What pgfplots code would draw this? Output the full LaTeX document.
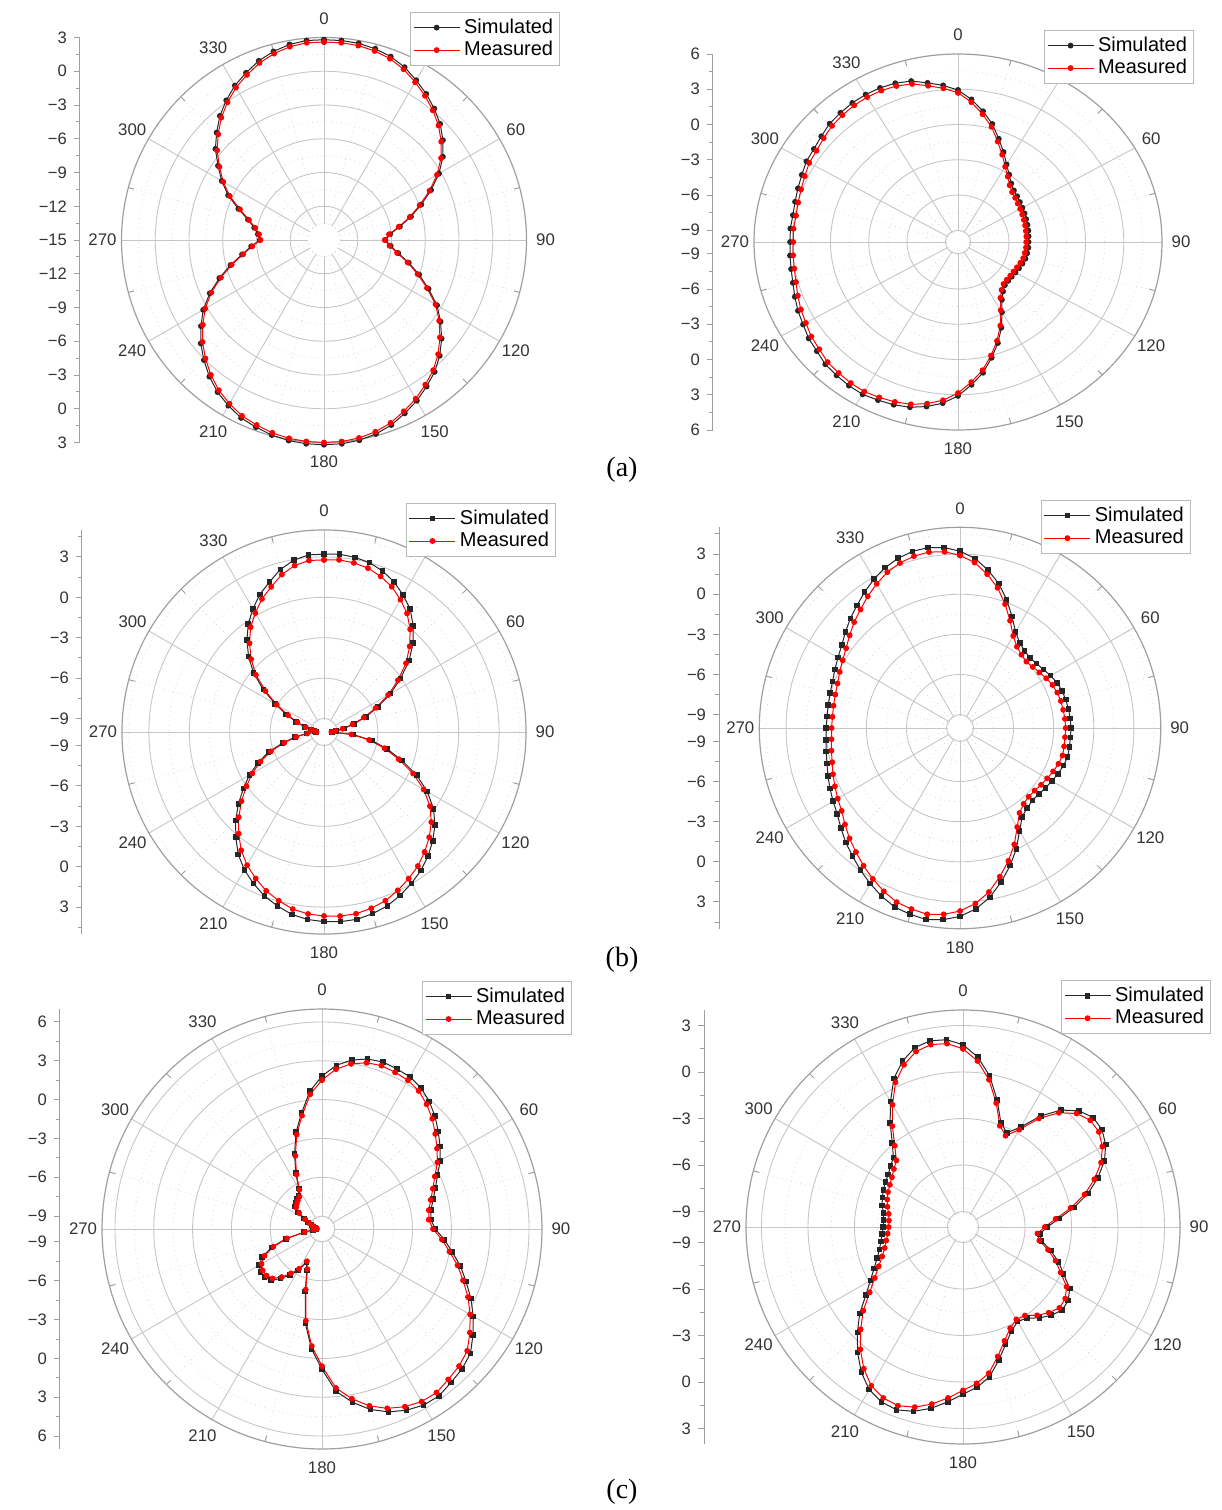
\documentclass[border=0pt]{standalone}
\usepackage{pgfplots}
\pgfplotsset{compat=1.18}
\usepackage{pgfplotstable}
\usepackage{fontspec}
\setmainfont{Liberation Sans}
\newfontfamily\seriffont{Liberation Serif}

\pgfplotstableread{
a s m
0 2.8 2.6
5 2.8 2.6
10 2.75 2.55
15 2.6 2.4
20 2.35 2.15
25 1.95 1.75
30 1.4 1.2
35 0.85 0.65
40 0.25 0.05
45 -0.4 -0.6
50 -1.2 -1.4
55 -2.1 -2.3
60 -3.2 -3.4
65 -4.5 -4.65
70 -5.8 -5.95
75 -7.0 -7.1
80 -8.15 -8.25
85 -9.1 -9.2
90 -9.55 -9.6
95 -9.05 -9.15
100 -8.3 -8.4
105 -7.2 -7.3
110 -6.0 -6.15
115 -4.75 -4.9
120 -3.4 -3.55
125 -2.35 -2.5
130 -1.35 -1.55
135 -0.45 -0.65
140 0.3 0.1
145 0.9 0.7
150 1.5 1.3
155 2.0 1.8
160 2.5 2.3
165 2.85 2.65
170 3.07 2.87
175 3.18 2.98
180 3.2 3.0
185 3.18 2.98
190 3.1 2.9
195 2.95 2.75
200 2.7 2.5
205 2.45 2.25
210 2.0 1.8
215 1.5 1.3
220 0.85 0.65
225 0.1 -0.1
230 -0.7 -0.9
235 -1.65 -1.85
240 -2.6 -2.8
245 -3.8 -3.95
250 -5.1 -5.25
255 -6.4 -6.5
260 -7.6 -7.7
265 -8.5 -8.6
270 -9.3 -9.35
275 -9.1 -9.2
280 -8.7 -8.8
285 -8.0 -8.1
290 -6.9 -7.05
295 -5.6 -5.75
300 -4.5 -4.65
305 -3.5 -3.65
310 -2.4 -2.6
315 -1.5 -1.7
320 -0.6 -0.8
325 0.15 -0.05
330 0.85 0.65
335 1.4 1.2
340 1.95 1.75
345 2.35 2.15
350 2.65 2.45
355 2.8 2.6
360 2.8 2.6
}\tAL

\pgfplotstableread{
a s m
0 2.93 2.7
5 2.18 1.95
10 1.3 1.05
15 0.4 0.15
20 -0.65 -0.9
25 -1.55 -1.8
30 -2.38 -2.6
35 -3.0 -3.2
40 -3.5 -3.7
45 -3.8 -4.0
50 -3.95 -4.15
55 -4.08 -4.28
60 -4.17 -4.37
65 -4.24 -4.44
70 -4.31 -4.5
75 -4.36 -4.55
80 -4.4 -4.6
85 -4.44 -4.62
90 -4.47 -4.65
95 -4.46 -4.65
100 -4.49 -4.68
105 -4.52 -4.7
110 -4.62 -4.8
115 -4.72 -4.9
120 -4.8 -4.97
125 -4.85 -5.0
130 -4.86 -5.0
135 -4.8 -4.95
140 -4.5 -4.68
145 -4.0 -4.2
150 -3.1 -3.3
155 -1.95 -2.15
160 -0.85 -1.05
165 0.2 0.0
170 1.3 1.08
175 2.2 1.97
180 3.1 2.85
185 3.77 3.52
190 4.22 3.97
195 4.56 4.3
200 4.74 4.48
205 4.85 4.6
210 4.97 4.7
215 4.92 4.66
220 4.82 4.56
225 4.72 4.46
230 4.45 4.2
235 4.3 4.04
240 4.03 3.78
245 3.85 3.6
250 3.62 3.37
255 3.41 3.16
260 3.29 3.04
265 3.23 2.98
270 3.17 2.92
275 3.2 2.95
280 3.15 2.9
285 3.23 2.98
290 3.36 3.1
295 3.52 3.26
300 3.73 3.47
305 3.8 3.55
310 4.0 3.75
315 4.24 3.98
320 4.35 4.1
325 4.45 4.2
330 4.49 4.24
335 4.47 4.22
340 4.38 4.13
345 4.18 3.93
350 3.75 3.5
355 3.38 3.13
360 2.93 2.7
}\tAR

\pgfplotstableread{
a s m
0 3.2 2.78
5 3.25 2.83
10 3.17 2.75
15 3.02 2.6
20 2.72 2.3
25 2.3 1.9
30 1.75 1.35
35 1.15 0.75
40 0.3 -0.05
45 -0.65 -1.0
50 -1.75 -2.05
55 -3.05 -3.3
60 -4.3 -4.5
65 -5.6 -5.75
70 -6.7 -6.85
75 -7.7 -7.8
80 -8.5 -8.6
85 -9.1 -9.15
90 -9.4 -9.45
95 -7.8 -7.95
100 -6.4 -6.6
105 -5.15 -5.35
110 -3.85 -4.1
115 -2.4 -2.7
120 -1.15 -1.45
125 -0.07 -0.4
130 0.75 0.4
135 1.42 1.05
140 2.02 1.62
145 2.55 2.15
150 2.98 2.57
155 3.38 2.97
160 3.74 3.33
165 3.96 3.55
170 4.12 3.7
175 4.13 3.72
180 4.08 3.66
185 3.97 3.56
190 3.75 3.35
195 3.37 2.97
200 2.95 2.55
205 2.4 2.0
210 1.82 1.42
215 1.1 0.72
220 0.19 -0.15
225 -0.73 -1.05
230 -1.7 -2.0
235 -2.7 -2.97
240 -3.6 -3.85
245 -4.6 -4.8
250 -5.6 -5.8
255 -6.8 -6.95
260 -7.8 -7.9
265 -8.7 -8.75
270 -9.4 -9.45
275 -9.3 -9.35
280 -9.0 -9.05
285 -8.5 -8.6
290 -7.8 -7.9
295 -6.9 -7.05
300 -5.8 -5.95
305 -4.5 -4.7
310 -3.18 -3.4
315 -2.08 -2.35
320 -1.1 -1.4
325 -0.2 -0.5
330 0.56 0.2
335 1.27 0.9
340 1.85 1.47
345 2.5 2.1
350 2.95 2.55
355 3.2 2.78
360 3.2 2.78
}\tBL

\pgfplotstableread{
a s m
0 3.21 2.9
5 2.73 2.42
10 2.0 1.68
15 1.18 0.85
20 0.2 -0.15
25 -0.8 -1.15
30 -1.7 -2.05
35 -2.22 -2.58
40 -2.48 -2.85
45 -2.6 -2.98
50 -2.52 -2.9
55 -2.38 -2.76
60 -2.18 -2.56
65 -2.0 -2.38
70 -1.88 -2.26
75 -1.82 -2.2
80 -1.77 -2.17
85 -1.73 -2.13
90 -1.7 -2.1
95 -1.72 -2.12
100 -1.7 -2.1
105 -1.67 -2.07
110 -1.77 -2.17
115 -1.92 -2.32
120 -2.08 -2.48
125 -2.2 -2.6
130 -2.32 -2.72
135 -2.34 -2.74
140 -2.2 -2.6
145 -1.9 -2.25
150 -1.1 -1.45
155 -0.04 -0.4
160 0.95 0.57
165 1.9 1.5
170 2.85 2.45
175 3.57 3.17
180 4.08 3.68
185 4.38 3.98
190 4.54 4.14
195 4.41 4.01
200 4.25 3.85
205 3.87 3.47
210 3.43 3.03
215 2.97 2.57
220 2.5 2.1
225 2.08 1.68
230 1.62 1.22
235 1.2 0.8
240 0.95 0.55
245 0.72 0.32
250 0.5 0.1
255 0.29 -0.11
260 0.16 -0.24
265 0.04 -0.36
270 0.0 -0.4
275 -0.03 -0.43
280 0.0 -0.4
285 0.05 -0.35
290 0.14 -0.26
295 0.32 -0.08
300 0.53 0.13
305 0.79 0.39
310 1.17 0.77
315 1.59 1.19
320 1.97 1.57
325 2.42 2.02
330 2.85 2.45
335 3.23 2.85
340 3.5 3.12
345 3.67 3.3
350 3.69 3.35
355 3.54 3.22
360 3.21 2.9
}\tBR

\pgfplotstableread{
a s m
0 1.82 1.52
5 2.7 2.4
10 3.26 2.96
15 3.6 3.3
20 3.74 3.44
25 3.66 3.36
30 3.58 3.28
35 3.33 3.03
40 2.88 2.58
45 2.35 2.05
50 1.73 1.43
55 1.14 0.85
60 0.55 0.3
65 -0.15 -0.38
70 -0.67 -0.88
75 -1.1 -1.3
80 -1.45 -1.62
85 -1.56 -1.72
90 -1.25 -1.42
95 -0.5 -0.7
100 0.22 0.0
105 1.08 0.85
110 1.84 1.6
115 2.7 2.45
120 3.5 3.22
125 4.25 3.95
130 4.97 4.65
135 5.3 4.98
140 5.5 5.18
145 5.75 5.43
150 5.71 5.4
155 5.45 5.15
160 5.04 4.75
165 4.44 4.15
170 3.6 3.32
175 2.6 2.33
180 0.85 0.6
185 -0.7 -0.92
190 -2.6 -2.8
195 -5.0 -5.15
200 -6.6 -6.7
205 -7.15 -7.25
210 -6.3 -6.45
215 -5.65 -5.8
220 -5.0 -5.15
225 -4.4 -4.6
230 -4.2 -4.4
235 -4.2 -4.4
240 -4.4 -4.6
245 -4.9 -5.1
250 -5.85 -6.0
255 -7.1 -7.2
260 -8.6 -8.65
265 -9.3 -9.35
270 -9.55 -9.6
275 -9.55 -9.6
280 -9.45 -9.5
285 -9.3 -9.35
290 -9.15 -9.2
295 -8.8 -8.9
300 -8.4 -8.5
305 -7.75 -7.85
310 -7.3 -7.4
315 -7.15 -7.25
320 -7.0 -7.1
325 -6.85 -6.95
330 -6.4 -6.5
335 -5.2 -5.35
340 -3.8 -3.98
345 -2.25 -2.45
350 -0.9 -1.1
355 0.7 0.45
360 1.82 1.52
}\tCL

\pgfplotstableread{
a s m
0 1.76 1.5
5 1.0 0.75
10 -0.1 -0.35
15 -1.5 -1.72
20 -2.85 -3.05
25 -3.3 -3.5
30 -2.55 -2.75
35 -1.25 -1.45
40 -0.15 -0.38
45 0.6 0.36
50 0.97 0.72
55 0.95 0.7
60 0.63 0.38
65 0.07 -0.17
70 -0.75 -0.98
75 -1.65 -1.88
80 -2.73 -2.95
85 -3.8 -4.0
90 -4.55 -4.72
95 -5.03 -5.18
100 -4.85 -5.0
105 -4.14 -4.32
110 -3.45 -3.65
115 -2.84 -3.05
120 -2.05 -2.28
125 -1.72 -1.95
130 -1.65 -1.88
135 -1.95 -2.18
140 -2.34 -2.56
145 -2.83 -3.03
150 -2.95 -3.12
155 -2.6 -2.8
160 -1.95 -2.18
165 -1.1 -1.35
170 -0.18 -0.42
175 0.38 0.13
180 0.79 0.54
185 1.32 1.07
190 1.88 1.6
195 2.31 2.03
200 2.55 2.27
205 2.45 2.17
210 2.11 1.83
215 1.44 1.16
220 0.58 0.3
225 -0.36 -0.66
230 -1.3 -1.6
235 -2.35 -2.65
240 -3.1 -3.42
245 -3.67 -4.0
250 -4.1 -4.45
255 -4.42 -4.77
260 -4.62 -4.97
265 -4.77 -5.12
270 -4.85 -5.2
275 -4.85 -5.2
280 -4.78 -5.13
285 -4.6 -4.95
290 -4.46 -4.8
295 -4.33 -4.66
300 -4.22 -4.55
305 -4.1 -4.4
310 -3.9 -4.18
315 -3.65 -3.92
320 -2.9 -3.15
325 -1.8 -2.05
330 -0.65 -0.9
335 0.56 0.3
340 1.4 1.14
345 1.98 1.72
350 2.2 1.95
355 2.13 1.88
360 1.76 1.5
}\tCR

% grid: #1 shift x, #2 shift y, #3 ux(px/dB), #4 uy, #5 Rdb, #6 hole, #7 major radii, #8 minor radii
\newcommand\polargrid[8]{%
\begin{scope}[shift={(#1,#2)}]
\foreach \rad in {#8}{\draw[gray!30, dotted, line width=0.4pt] (0,0) ellipse [x radius={\rad*#3*0.5pt}, y radius={\rad*#4*0.5pt}];}
\foreach \rad in {#7}{\draw[gray!45, line width=0.45pt] (0,0) ellipse [x radius={\rad*#3*0.5pt}, y radius={\rad*#4*0.5pt}];}
\foreach \ang in {15,45,...,345}{\draw[gray!30, dotted, line width=0.4pt] ({#6*#3*sin(\ang)},{#6*#4*cos(\ang)}) -- ({#5*#3*sin(\ang)},{#5*#4*cos(\ang)});}
\foreach \ang in {0,30,...,330}{\draw[gray!45, line width=0.45pt] ({#6*#3*sin(\ang)},{#6*#4*cos(\ang)}) -- ({#5*#3*sin(\ang)},{#5*#4*cos(\ang)});}
\draw[gray!75, line width=0.6pt] (0,0) ellipse [x radius={#5*#3*0.5pt}, y radius={#5*#4*0.5pt}];
\foreach \ang in {15,45,...,345}{\draw[gray!75, line width=0.5pt] ({#5*#3*sin(\ang)},{#5*#4*cos(\ang)}) -- ({(#5*#3-6)*sin(\ang)},{(#5*#4-6)*cos(\ang)});}
\foreach \ang in {0,60,90,...,330}{\node[font=\fontsize{8.4}{10}\selectfont, text=black!80, inner sep=0pt] at ({(#5*#3+19)*sin(\ang)},{(#5*#4+19)*cos(\ang)}) {\ang};}
\end{scope}}

\pgfplotsset{
 rad/.style={
  anchor=origin, clip=false,
  axis y line*=left, axis x line=none,
  tick align=outside,
  major tick length=3pt, minor tick length=1.8pt,
  y axis line style={gray!75, line width=0.5pt},
  every tick/.style={gray!75, line width=0.5pt},
  yticklabel style={font=\fontsize{8.3}{10}\selectfont, text=black!80},
  legend style={draw=gray!55, fill=white, font=\fontsize{10}{12}\selectfont, anchor=north east, inner sep=1.2pt, row sep=-1.5pt, cells={anchor=west}, line width=0.5pt},
  legend image code/.code={\draw[mark repeat=2,mark phase=2] plot coordinates {(0pt,0pt)(11.5pt,0pt)(23pt,0pt)};},
 },
 simA/.style={black!85, line width=0.5pt, mark=*, mark size=1.2pt},
 simB/.style={black!85, line width=0.5pt, mark=square*, mark size=1.15pt},
 mea/.style={red, line width=0.5pt, mark=*, mark size=1.2pt},
}

\begin{document}
\begin{tikzpicture}[x=0.5pt,y=0.5pt]
\useasboundingbox (0,0) rectangle (1221,-1510);

\polargrid{162pt}{-120pt}{11.25}{11.25}{18}{1.4}{3,6,9,12,15}{1.5,4.5,7.5,10.5,13.5,16.5}
\polargrid{479pt}{-121pt}{12.75}{11.75}{16}{0.9}{1,4,7,10,13}{2.5,5.5,8.5,11.5,14.5}
\polargrid{162pt}{-366pt}{13.47}{13.47}{15}{0.9}{1,4,7,10,13}{2.5,5.5,8.5,11.5,14.5}
\polargrid{480pt}{-364pt}{13.38}{13.38}{15}{0.9}{1,4,7,10,13}{2.5,5.5,8.5,11.5,14.5}
\polargrid{161pt}{-614.5pt}{12.94}{12.94}{17}{0.9}{1,4,7,10,13,16}{2.5,5.5,8.5,11.5,14.5}
\polargrid{481.5pt}{-613.5pt}{15.5}{15.5}{14}{0.9}{1,4,7,10,13}{2.5,5.5,8.5,11.5}

% (a) left
\begin{axis}[rad, at={(162pt,-120pt)}, x=5.625pt, y=5.625pt,
 xmin=-21.69, xmax=18, ymin=-18, ymax=18,
 ytick={-18,-15,...,18}, yticklabels={3,0,−3,−6,−9,−12,−15,−12,−9,−6,−3,0,3},
 minor ytick={-16.5,-13.5,...,16.5},
 legend style={at={(1.075,1.063)}}]
\addplot[simA] table[x expr={(\thisrow{s}+15)*sin(\thisrow{a})}, y expr={(\thisrow{s}+15)*cos(\thisrow{a})}]{\tAL};
\addplot[mea] table[x expr={(\thisrow{m}+15)*sin(\thisrow{a})}, y expr={(\thisrow{m}+15)*cos(\thisrow{a})}]{\tAL};
\legend{Simulated,Measured}
\end{axis}

% (a) right
\begin{axis}[rad, at={(479pt,-121pt)}, x=6.375pt, y=5.875pt,
 xmin=-19.22, xmax=16, ymin=-16, ymax=16,
 ytick={-16,-13,-10,-7,-4,-1,1,4,7,10,13,16}, yticklabels={6,3,0,−3,−6,−9,−9,−6,−3,0,3,6},
 minor ytick={-14.5,-11.5,-8.5,-5.5,-2.5,2.5,5.5,8.5,11.5,14.5},
 legend style={at={(1.071,1.064)}}]
\addplot[simA] table[x expr={(\thisrow{s}+10)*sin(\thisrow{a})}, y expr={(\thisrow{s}+10)*cos(\thisrow{a})}]{\tAR};
\addplot[mea] table[x expr={(\thisrow{m}+10)*sin(\thisrow{a})}, y expr={(\thisrow{m}+10)*cos(\thisrow{a})}]{\tAR};
\legend{Simulated,Measured}
\end{axis}

% (b) left
\begin{axis}[rad, at={(162pt,-366pt)}, x=6.735pt, y=6.735pt,
 xmin=-17.97, xmax=15, ymin=-15, ymax=15,
 ytick={-13,-10,-7,-4,-1,1,4,7,10,13}, yticklabels={3,0,−3,−6,−9,−9,−6,−3,0,3},
 minor ytick={-14.5,-11.5,-8.5,-5.5,-2.5,2.5,5.5,8.5,11.5,14.5},
 legend style={at={(1.067,1.067)}}]
\addplot[simB] table[x expr={(\thisrow{s}+10)*sin(\thisrow{a})}, y expr={(\thisrow{s}+10)*cos(\thisrow{a})}]{\tBL};
\addplot[mea] table[x expr={(\thisrow{m}+10)*sin(\thisrow{a})}, y expr={(\thisrow{m}+10)*cos(\thisrow{a})}]{\tBL};
\legend{Simulated,Measured}
\end{axis}

% (b) right
\begin{axis}[rad, at={(480pt,-364pt)}, x=6.69pt, y=6.69pt,
 xmin=-18.01, xmax=15, ymin=-15, ymax=15,
 ytick={-13,-10,-7,-4,-1,1,4,7,10,13}, yticklabels={3,0,−3,−6,−9,−9,−6,−3,0,3},
 minor ytick={-14.5,-11.5,-8.5,-5.5,-2.5,2.5,5.5,8.5,11.5,14.5},
 legend style={at={(1.068,1.068)}}]
\addplot[simB] table[x expr={(\thisrow{s}+10)*sin(\thisrow{a})}, y expr={(\thisrow{s}+10)*cos(\thisrow{a})}]{\tBR};
\addplot[mea] table[x expr={(\thisrow{m}+10)*sin(\thisrow{a})}, y expr={(\thisrow{m}+10)*cos(\thisrow{a})}]{\tBR};
\legend{Simulated,Measured}
\end{axis}

% (c) left
\begin{axis}[rad, at={(161pt,-614.5pt)}, x=6.47pt, y=6.47pt,
 xmin=-20.25, xmax=17, ymin=-17, ymax=17,
 ytick={-16,-13,-10,-7,-4,-1,1,4,7,10,13,16}, yticklabels={6,3,0,−3,−6,−9,−9,−6,−3,0,3,6},
 minor ytick={-14.5,-11.5,-8.5,-5.5,-2.5,2.5,5.5,8.5,11.5,14.5},
 legend style={at={(1.062,1.064)}}]
\addplot[simB] table[x expr={(\thisrow{s}+10)*sin(\thisrow{a})}, y expr={(\thisrow{s}+10)*cos(\thisrow{a})}]{\tCL};
\addplot[mea] table[x expr={(\thisrow{m}+10)*sin(\thisrow{a})}, y expr={(\thisrow{m}+10)*cos(\thisrow{a})}]{\tCL};
\legend{Simulated,Measured}
\end{axis}

% (c) right
\begin{axis}[rad, at={(481.5pt,-613.5pt)}, x=7.75pt, y=7.75pt,
 xmin=-16.71, xmax=14, ymin=-14, ymax=14,
 ytick={-13,-10,-7,-4,-1,1,4,7,10,13}, yticklabels={3,0,−3,−6,−9,−9,−6,−3,0,3},
 minor ytick={-11.5,-8.5,-5.5,-2.5,2.5,5.5,8.5,11.5},
 legend style={at={(1.065,1.069)}}]
\addplot[simB] table[x expr={(\thisrow{s}+10)*sin(\thisrow{a})}, y expr={(\thisrow{s}+10)*cos(\thisrow{a})}]{\tCR};
\addplot[mea] table[x expr={(\thisrow{m}+10)*sin(\thisrow{a})}, y expr={(\thisrow{m}+10)*cos(\thisrow{a})}]{\tCR};
\legend{Simulated,Measured}
\end{axis}

\node[font=\seriffont\fontsize{14}{16}\selectfont] at (622,-470) {(a)};
\node[font=\seriffont\fontsize{14}{16}\selectfont] at (622,-960) {(b)};
\node[font=\seriffont\fontsize{14}{16}\selectfont] at (622,-1492) {(c)};
\end{tikzpicture}
\end{document}
